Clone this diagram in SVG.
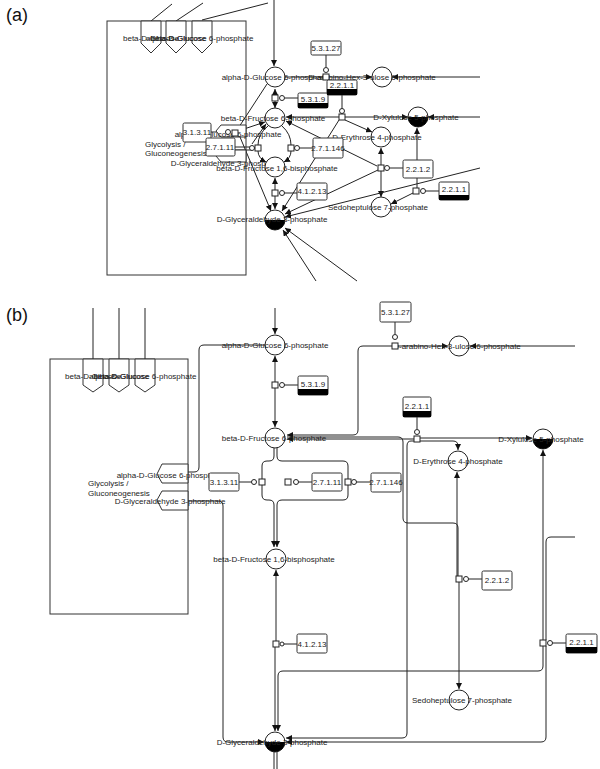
<svg xmlns="http://www.w3.org/2000/svg" width="600" height="769" viewBox="0 0 600 769">
<defs>
<marker id="ar" markerUnits="userSpaceOnUse" markerWidth="7" markerHeight="6" refX="6" refY="3" orient="auto-start-reverse"><path d="M0,0 L6,3 L0,6 z" fill="#111"/></marker>
</defs>
<style>
text{font-family:"Liberation Sans",Arial,sans-serif;font-size:8px;fill:#222}
.lbl{text-anchor:middle}
.pl{font-size:18px;fill:#111}
.ln{fill:none;stroke:#222;stroke-width:1}
.a{marker-end:url(#ar)}
.as{marker-start:url(#ar)}
.c{fill:#fff;stroke:#222;stroke-width:1}
.hb{fill:#000}
.box{fill:#fff;stroke:#333;stroke-width:1}
.bar{fill:#000}
.sq{fill:#fff;stroke:#222;stroke-width:1}
.o{fill:#fff;stroke:#222;stroke-width:1}
.pw{fill:none;stroke:#333;stroke-width:1}
.pent{fill:#fff;stroke:#333;stroke-width:1}
</style>

<g id="labels-panels">
<text class="pl" x="6" y="21">(a)</text>
<text class="pl" x="6" y="321">(b)</text>
</g>

<!-- ================= PANEL A ================= -->
<g id="a-connectors">
<line class="ln" x1="151" y1="21" x2="172" y2="4"/>
<line class="ln" x1="176" y1="21" x2="203" y2="3"/>
<line class="ln" x1="202" y1="20" x2="268" y2="3"/>
<line class="ln a" x1="274" y1="0" x2="274" y2="66"/>
<line class="ln as a" x1="275" y1="89" x2="275" y2="108" stroke-dasharray="0"/>
<line class="ln" x1="285" y1="98" x2="298" y2="98"/>
<line class="ln" x1="326" y1="55" x2="326" y2="67"/>
<line class="ln" x1="285" y1="77" x2="323" y2="77"/>
<line class="ln a" x1="329" y1="77" x2="372" y2="77"/>
<line class="ln a" x1="480" y1="77" x2="392" y2="77"/>
<line class="ln" x1="342" y1="95" x2="342" y2="109"/>
<line class="ln as" x1="286" y1="117" x2="339" y2="117"/>
<line class="ln a" x1="345" y1="117" x2="408" y2="117"/>
<line class="ln a" x1="480" y1="117" x2="428" y2="117"/>
<line class="ln a" x1="345" y1="120" x2="372" y2="132"/>
<line class="ln a" x1="339" y1="120" x2="282" y2="211"/>
<line class="ln" x1="294" y1="148" x2="313" y2="148"/>
<line class="ln" x1="235" y1="147" x2="250" y2="147"/>
<line class="ln" x1="235" y1="150" x2="252" y2="150"/>
<line class="ln" x1="211" y1="132" x2="226" y2="132"/>
<line class="ln" x1="267" y1="84" x2="237" y2="130"/>
<line class="ln a" x1="238" y1="131" x2="265" y2="122"/>
<line class="ln a" x1="252" y1="144" x2="266" y2="124"/>
<line class="ln a" x1="240" y1="137" x2="271" y2="211"/>
<path class="ln" d="M268,126 Q258,134 258,145"/>
<path class="ln a" d="M258,151 Q258,158 266,162"/>
<path class="ln" d="M282,126 Q291,134 291,145"/>
<path class="ln a" d="M291,151 Q291,158 284,162"/>
<line class="ln as a" x1="275" y1="178" x2="275" y2="209"/>
<line class="ln" x1="284" y1="193" x2="297" y2="193"/>
<line class="ln a" x1="381" y1="165" x2="381" y2="148"/>
<line class="ln a" x1="381" y1="171" x2="381" y2="197"/>
<line class="ln" x1="389" y1="168" x2="403" y2="168"/>
<line class="ln a" x1="377" y1="166" x2="286" y2="121"/>
<line class="ln a" x1="378" y1="170" x2="285" y2="214"/>
<line class="ln a" x1="417" y1="188" x2="417" y2="128"/>
<line class="ln a" x1="413" y1="193" x2="391" y2="204"/>
<line class="ln" x1="425" y1="191" x2="439" y2="191"/>
<line class="ln a" x1="480" y1="168" x2="285" y2="217"/>
<line class="ln a" x1="316" y1="281" x2="283" y2="230"/>
<line class="ln a" x1="357" y1="281" x2="285" y2="228"/>
</g>

<g id="a-glycolysis">
<rect class="pw" x="107" y="21" width="139" height="254"/>
<polygon class="pent" points="141,21 161,21 161,43 151,53 141,43"/>
<polygon class="pent" points="166,21 186,21 186,43 176,53 166,43"/>
<polygon class="pent" points="192,21 212,21 212,43 202,53 192,43"/>
<text class="lbl" x="151" y="41">beta-D-Glucose</text>
<text class="lbl" x="176" y="41">alpha-D-Glucose</text>
<text class="lbl" x="202" y="41">beta-D-Glucose 6-phosphate</text>
<polygon class="pent" points="246,125 221,125 216,131 221,137 246,137"/>
<polygon class="pent" points="246,150 221,150 216,156 221,162 246,162"/>
<text x="145" y="147">Glycolysis /</text>
<text x="145" y="156">Gluconeogenesis</text>
<text class="lbl" x="228" y="137">alpha-D-Glucose 6-phosphate</text>
<text class="lbl" x="226" y="166">D-Glyceraldehyde 3-phosphate</text>
</g>

<g id="a-nodes">
<g id="a-A6P"><circle class="c" cx="275" cy="77" r="10"/><text class="lbl" x="275" y="80">alpha-D-Glucose 6-phosphate</text></g>
<g id="a-F6P"><circle class="c" cx="275" cy="118" r="10"/><text class="lbl" x="273" y="121">beta-D-Fructose 6-phosphate</text></g>
<g id="a-F16BP"><circle class="c" cx="275" cy="167" r="10"/><text class="lbl" x="277" y="171">beta-D-Fructose 1,6-bisphosphate</text></g>
<g id="a-G3P"><circle class="c" cx="275" cy="220" r="10"/><path class="hb" d="M265,220 A10,10 0 0 0 285,220 z"/><text class="lbl" x="272" y="222">D-Glyceraldehyde 3-phosphate</text></g>
<g id="a-Hex"><circle class="c" cx="382" cy="77" r="10"/><text class="lbl" x="372" y="80">D-arabino-Hex-3-ulose 6-phosphate</text></g>
<g id="a-X5P"><circle class="c" cx="418" cy="117" r="10"/><path class="hb" d="M408,117 A10,10 0 0 0 428,117 z"/><text class="lbl" x="416" y="120">D-Xylulose 5-phosphate</text></g>
<g id="a-E4P"><circle class="c" cx="381" cy="137" r="10"/><text class="lbl" x="377" y="140">D-Erythrose 4-phosphate</text></g>
<g id="a-S7P"><circle class="c" cx="381" cy="207" r="10"/><text class="lbl" x="378" y="210">Sedoheptulose 7-phosphate</text></g>

<g id="a-r5319"><rect class="sq" x="272" y="95" width="6" height="6"/><circle class="o" cx="282" cy="98" r="2.5"/><rect class="box" x="298" y="93" width="30" height="15" rx="1.5"/><rect class="bar" x="298" y="103" width="30" height="5"/><text class="lbl" x="313" y="102">5.3.1.9</text></g>
<g id="a-r53127"><rect class="box" x="311" y="41" width="30" height="14" rx="1.5"/><text class="lbl" x="326" y="51">5.3.1.27</text><circle class="o" cx="326" cy="70" r="2.5"/><rect class="sq" x="323" y="74" width="6" height="6"/></g>
<g id="a-r2211a"><rect class="box" x="327" y="80" width="30" height="15" rx="1.5"/><rect class="bar" x="327" y="89" width="30" height="6"/><text class="lbl" x="342" y="88">2.2.1.1</text><circle class="o" cx="342" cy="111" r="2.5"/><rect class="sq" x="339" y="114" width="6" height="6"/></g>
<g id="a-r31311"><rect class="box" x="183" y="123" width="28" height="19" rx="1.5"/><text class="lbl" x="197" y="135">3.1.3.11</text><circle class="o" cx="228" cy="132" r="2.5"/><rect class="sq" x="232" y="130" width="6" height="6"/></g>
<g id="a-r27111"><rect class="box" x="206" y="138" width="29" height="18" rx="1.5"/><text class="lbl" x="220" y="150">2.7.1.11</text><circle class="o" cx="252" cy="148" r="2.5"/><rect class="sq" x="255" y="145" width="6" height="6"/></g>
<g id="a-r271146"><rect class="sq" x="288" y="145" width="6" height="6"/><circle class="o" cx="297" cy="148" r="2.5"/><rect class="box" x="313" y="138" width="30" height="20" rx="1.5"/><text class="lbl" x="328" y="151">2.7.1.146</text></g>
<g id="a-r41213"><rect class="sq" x="272" y="190" width="6" height="6"/><circle class="o" cx="282" cy="193" r="2.5"/><rect class="box" x="297" y="183" width="30" height="17" rx="1.5"/><text class="lbl" x="312" y="194">4.1.2.13</text></g>
<g id="a-r2212"><rect class="sq" x="378" y="165" width="6" height="6"/><circle class="o" cx="387" cy="168" r="2.5"/><rect class="box" x="403" y="160" width="30" height="18" rx="1.5"/><text class="lbl" x="418" y="172">2.2.1.2</text></g>
<g id="a-r2211b"><rect class="sq" x="413" y="188" width="6" height="6"/><circle class="o" cx="423" cy="191" r="2.5"/><rect class="box" x="439" y="182" width="30" height="18" rx="1.5"/><rect class="bar" x="439" y="195" width="30" height="5"/><text class="lbl" x="454" y="192">2.2.1.1</text></g>
</g>

<!-- ================= PANEL B ================= -->
<g id="b-connectors">
<line class="ln" x1="93" y1="308" x2="93" y2="359"/>
<line class="ln" x1="119" y1="308" x2="119" y2="359"/>
<line class="ln" x1="145" y1="308" x2="145" y2="359"/>
<line class="ln a" x1="275" y1="308" x2="275" y2="334"/>
<path class="ln" d="M265,345 H204 Q199,345 199,350 V467 Q199,472 194,472 H188"/>
<line class="ln as a" x1="275" y1="356" x2="275" y2="427"/>
<line class="ln" x1="284" y1="385" x2="298" y2="385"/>
<line class="ln" x1="395" y1="322" x2="395" y2="334"/>
<path class="ln a" d="M392,346 H363 Q358,346 358,351 V430 Q358,435 353,435 H287"/>
<line class="ln a" x1="398" y1="346" x2="448" y2="346"/>
<line class="ln a" x1="575" y1="346" x2="470" y2="346"/>
<line class="ln" x1="417" y1="417" x2="417" y2="429"/>
<line class="ln a" x1="420" y1="438" x2="532" y2="438"/>
<path class="ln a" d="M420,441 H453 Q458,441 458,446 V450"/>
<line class="ln a" x1="414" y1="439" x2="287" y2="439"/>
<path class="ln" d="M287,437 H398 Q403,437 403,442 V518 Q403,523 408,523 H453 Q458,523 458,528 V576"/>
<path class="ln a" d="M414,441 H411 Q407,441 407,446 V733 Q407,738 402,738 H286"/>
<line class="ln a" x1="457" y1="576" x2="457" y2="472"/>
<line class="ln a" x1="459" y1="582" x2="459" y2="689"/>
<line class="ln" x1="468" y1="579" x2="482" y2="579"/>
<line class="ln a" x1="543" y1="640" x2="543" y2="450"/>
<path class="ln" d="M575,537 H551 Q546,537 546,542 V640"/>
<path class="ln a" d="M543,646 V666 Q543,671 538,671 H283 Q278,671 278,676 V731"/>
<path class="ln a" d="M546,646 V737 Q546,742 541,742 H286"/>
<line class="ln" x1="552" y1="643" x2="566" y2="643"/>
<line class="ln" x1="239" y1="482" x2="252" y2="482"/>
<line class="ln" x1="298" y1="482" x2="312" y2="482"/>
<line class="ln" x1="356" y1="482" x2="371" y2="482"/>
<path class="ln a" d="M274,448 V456 Q274,461 269,461 H267 Q262,461 262,466 V495 Q262,500 267,500 H269 Q274,500 274,505 V547"/>
<path class="ln a" d="M277,448 V456 Q277,461 282,461 H343 Q348,461 348,466 V495 Q348,500 343,500 H282 Q277,500 277,505 V547"/>
<line class="ln a" x1="276" y1="641" x2="276" y2="570"/>
<line class="ln a" x1="275" y1="647" x2="275" y2="731"/>
<line class="ln" x1="284" y1="644" x2="297" y2="644"/>
<path class="ln a" d="M188,501 H218 Q223,501 223,506 V737 Q223,742 228,742 H264"/>
<line class="ln" x1="274" y1="752" x2="274" y2="769"/>
<line class="ln" x1="277" y1="752" x2="277" y2="769"/>
</g>

<g id="b-glycolysis">
<rect class="pw" x="50" y="359" width="138" height="255"/>
<polygon class="pent" points="83,359 103,359 103,385 93,392 83,385"/>
<polygon class="pent" points="109,359 129,359 129,385 119,392 109,385"/>
<polygon class="pent" points="135,359 155,359 155,385 145,392 135,385"/>
<text class="lbl" x="93" y="379">beta-D-Glucose</text>
<text class="lbl" x="119" y="379">alpha-D-Glucose</text>
<text class="lbl" x="145" y="379">beta-D-Glucose 6-phosphate</text>
<polygon class="pent" points="188,464 162,464 157,474 162,483 188,483"/>
<polygon class="pent" points="188,491 162,491 157,500 162,510 188,510"/>
<text class="lbl" x="170" y="478">alpha-D-Glucose 6-phosphate</text>
<text class="lbl" x="170" y="504">D-Glyceraldehyde 3-phosphate</text>
<text x="88" y="486">Glycolysis /</text>
<text x="88" y="496">Gluconeogenesis</text>
</g>

<g id="b-nodes">
<g id="b-A6P"><circle class="c" cx="275" cy="345" r="10"/><text class="lbl" x="275" y="348">alpha-D-Glucose 6-phosphate</text></g>
<g id="b-F6P"><circle class="c" cx="275" cy="438" r="10"/><text class="lbl" x="274" y="441">beta-D-Fructose 6-phosphate</text></g>
<g id="b-F16BP"><circle class="c" cx="276" cy="559" r="10"/><text class="lbl" x="274" y="562">beta-D-Fructose 1,6-bisphosphate</text></g>
<g id="b-G3P"><circle class="c" cx="275" cy="742" r="10"/><path class="hb" d="M265,742 A10,10 0 0 0 285,742 z"/><text class="lbl" x="272" y="745">D-Glyceraldehyde 3-phosphate</text></g>
<g id="b-Hex"><circle class="c" cx="459" cy="346" r="10"/><text class="lbl" x="457" y="349">D-arabino-Hex-3-ulose 6-phosphate</text></g>
<g id="b-X5P"><circle class="c" cx="543" cy="439" r="10"/><path class="hb" d="M533,439 A10,10 0 0 0 553,439 z"/><text class="lbl" x="541" y="442">D-Xylulose 5-phosphate</text></g>
<g id="b-E4P"><circle class="c" cx="458" cy="461" r="10"/><text class="lbl" x="458" y="464">D-Erythrose 4-phosphate</text></g>
<g id="b-S7P"><circle class="c" cx="459" cy="700" r="10"/><text class="lbl" x="462" y="703">Sedoheptulose 7-phosphate</text></g>

<g id="b-r5319"><rect class="sq" x="272" y="382" width="6" height="6"/><circle class="o" cx="282" cy="385" r="2.5"/><rect class="box" x="298" y="376" width="30" height="19" rx="1.5"/><rect class="bar" x="298" y="389" width="30" height="6"/><text class="lbl" x="313" y="387">5.3.1.9</text></g>
<g id="b-r53127"><rect class="box" x="380" y="302" width="31" height="20" rx="1.5"/><text class="lbl" x="395.5" y="315">5.3.1.27</text><circle class="o" cx="395" cy="337" r="2.5"/><rect class="sq" x="392" y="343" width="6" height="6"/></g>
<g id="b-r2211a"><rect class="box" x="403" y="397" width="28" height="20" rx="1.5"/><rect class="bar" x="403" y="411" width="28" height="6"/><text class="lbl" x="417" y="409">2.2.1.1</text><circle class="o" cx="417" cy="432" r="2.5"/><rect class="sq" x="414" y="436" width="6" height="6"/></g>
<g id="b-r31311"><rect class="box" x="209" y="473" width="30" height="18" rx="1.5"/><text class="lbl" x="224" y="485">3.1.3.11</text><circle class="o" cx="254" cy="482" r="2.5"/><rect class="sq" x="259" y="479" width="6" height="6"/></g>
<g id="b-r27111"><rect class="sq" x="285" y="479" width="6" height="6"/><circle class="o" cx="296" cy="482" r="2.5"/><rect class="box" x="312" y="473" width="30" height="18" rx="1.5"/><text class="lbl" x="327" y="485">2.7.1.11</text></g>
<g id="b-r271146"><rect class="sq" x="345" y="479" width="6" height="6"/><circle class="o" cx="354" cy="482" r="2.5"/><rect class="box" x="371" y="473" width="30" height="19" rx="1.5"/><text class="lbl" x="386" y="485">2.7.1.146</text></g>
<g id="b-r41213"><rect class="sq" x="273" y="641" width="6" height="6"/><circle class="o" cx="282" cy="644" r="2"/><rect class="box" x="297" y="634" width="30" height="19" rx="1.5"/><text class="lbl" x="312" y="647">4.1.2.13</text></g>
<g id="b-r2212"><rect class="sq" x="456" y="576" width="6" height="6"/><circle class="o" cx="466" cy="579" r="2.5"/><rect class="box" x="482" y="571" width="30" height="19" rx="1.5"/><text class="lbl" x="497" y="583">2.2.1.2</text></g>
<g id="b-r2211b"><rect class="sq" x="540" y="640" width="6" height="6"/><circle class="o" cx="550" cy="643" r="2.5"/><rect class="box" x="566" y="634" width="31" height="19" rx="1.5"/><rect class="bar" x="566" y="647" width="31" height="6"/><text class="lbl" x="581.5" y="645">2.2.1.1</text></g>
</g>
</svg>
